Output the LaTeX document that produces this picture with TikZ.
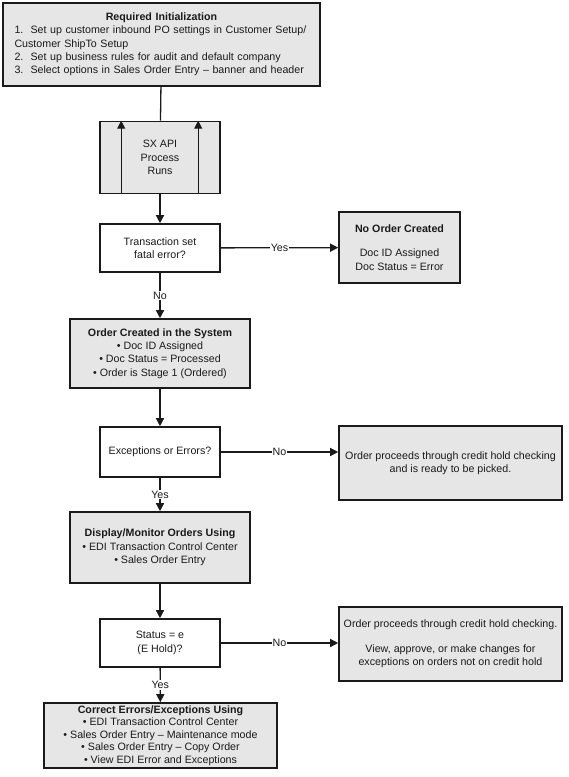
\documentclass[tikz,border=0pt]{standalone}
\usepackage{fontspec}
\setmainfont{Liberation Sans}
\usetikzlibrary{arrows.meta,positioning,calc}
\definecolor{ink}{HTML}{1A1A1A}
\definecolor{boxgray}{HTML}{E6E6E6}
\newcommand{\fsz}{\fontsize{10.67}{13.3}\selectfont}
\tikzset{
  base/.style={draw=ink, line width=1.6pt, align=center, inner sep=0pt, text=ink, font=\fsz},
  shaded/.style={base, fill=boxgray},
  ask/.style={base, fill=white, minimum width=120pt, minimum height=48pt},
  link/.style={line width=1.3pt, draw=ink},
  arr/.style={link, -{Triangle[length=8pt,width=8pt]}},
  lab/.style={fill=white, inner sep=1pt, font=\fsz, text=ink},
}

\begin{document}
\begin{tikzpicture}[x=1pt, y=-1pt]
    \useasboundingbox (0,0) rectangle (569,777);
    \node[shaded, text width=294pt, align=left, minimum width=317pt, minimum height=83pt] (init) at (161.5,44.5)
      {\makebox[294pt]{\textbf{Required Initialization}}\\1.\ \ Set up customer inbound PO settings in Customer Setup/\\Customer ShipTo Setup\\2.\ \ Set up business rules for audit and default company\\3.\ \ Select options in Sales Order Entry – banner and header};
    \node[shaded, minimum width=120pt, minimum height=72pt] (sx) at (160,157.5) {SX API\\Process\\Runs};
    \node[ask] (fatal) at (160,248) {Transaction set\\fatal error?};
    \node[shaded, minimum width=121pt, minimum height=71pt] (noorder) at (399.5,247.5)
      {\textbf{No Order Created}\\[11pt]Doc ID Assigned\\Doc Status = Error};
    \node[shaded, minimum width=180pt, minimum height=69pt] (created) at (160,353.5)
      {\textbf{Order Created in the System}\\• Doc ID Assigned\\• Doc Status = Processed\\• Order is Stage 1 (Ordered)};
    \node[ask, minimum height=50pt] (excep) at (160,452) {Exceptions or Errors?};
    \node[shaded, minimum width=223pt, minimum height=74pt] (ready) at (450.5,463)
      {Order proceeds through credit hold checking\\and is ready to be picked.};
    \node[shaded, minimum width=180pt, minimum height=71pt] (monitor) at (160,547.5)
      {\textbf{Display/Monitor Orders Using}\\• EDI Transaction Control Center\\• Sales Order Entry};
    \node[ask] (hold) at (160,643) {Status = e\\(E Hold)?};
    \node[shaded, minimum width=223pt, minimum height=74pt] (proceed) at (450.5,644)
      {Order proceeds through credit hold checking.\\[11pt]View, approve, or make changes for\\exceptions on orders not on credit hold};
    \node[shaded, minimum width=233pt, minimum height=65pt, font=\fontsize{10.67}{12.5}\selectfont] (fix) at (160.5,735.5)
      {\textbf{Correct Errors/Exceptions Using}\\• EDI Transaction Control Center\\• Sales Order Entry – Maintenance mode\\• Sales Order Entry – Copy Order\\• View EDI Error and Exceptions};
    \foreach \dx in {22,99} \draw[arr] ([xshift=\dx pt]sx.south west) -- ([xshift=\dx pt]sx.north west);
    \draw[link] (init) -- (sx);
    \draw[arr] (sx) -- (fatal);
    \draw[arr] (fatal) -- node[lab] {Yes} (noorder);
    \draw[arr] (fatal) -- node[lab] {No} (created);
    \draw[arr] (created) -- (excep);
    \draw[arr] (excep) -- node[lab] {No} (excep.east -| ready.west);
    \draw[arr] (excep) -- node[lab] {Yes} (monitor);
    \draw[arr] (monitor) -- (hold);
    \draw[arr] (hold) -- node[lab] {No} (hold.east -| proceed.west);
    \draw[arr] (hold) -- node[lab] {Yes} (fix);
  \end{tikzpicture}
\end{document}
